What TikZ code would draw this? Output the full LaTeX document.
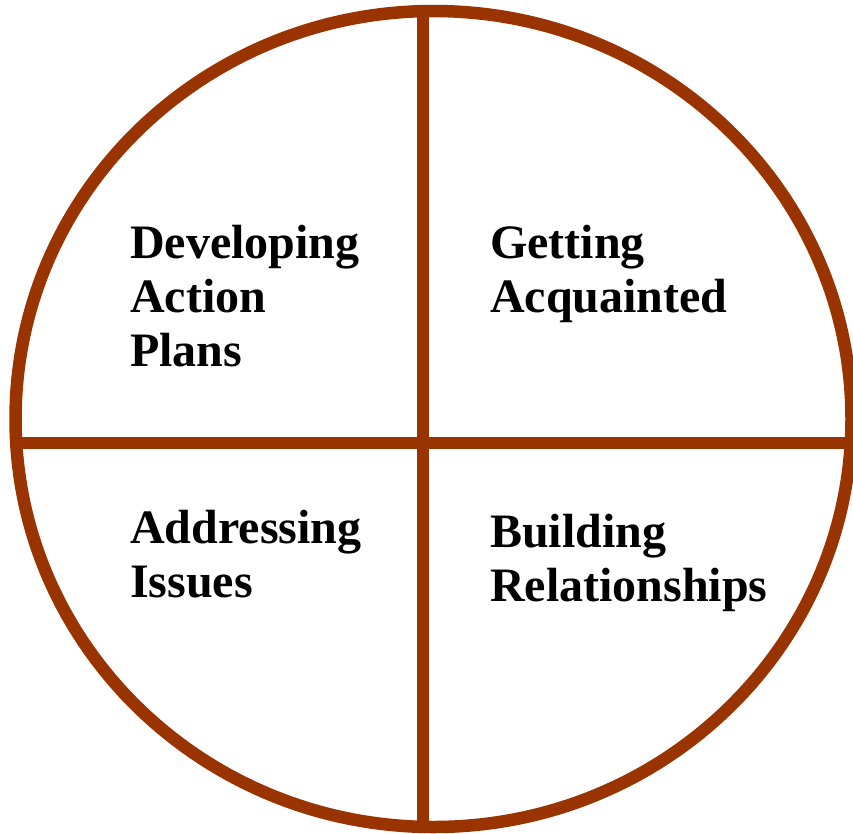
\documentclass[tikz,border=0pt]{standalone}
\usepackage{fontspec}
\setmainfont{Liberation Serif}
\usetikzlibrary{shapes.geometric}
\definecolor{rust}{HTML}{993300}
\begin{document}
\begin{tikzpicture}[x=1pt, y=-1pt, line width=12.5pt, draw=rust,
    ring/.style = {draw, ellipse, minimum width=836pt, minimum height=816pt, inner sep=0pt},
    main/.style = {anchor=base west, align=left, inner sep=0pt, text=black, font=\fontsize{48}{54}\selectfont\bfseries}]
    \useasboundingbox (0,0) rectangle (853,833);
    \node[ring] (c) at (433.5,419) {};
    \coordinate (n) at (423,11);
    \coordinate (s) at (423,827);
    \coordinate (w) at (16,443);
    \coordinate (e) at (850,443);
    \draw (n)--(s);
    \draw (w)--(e);
    % base anchor sits on the last line
    \node[main] (1) at (124,366) {Developing\\Action\\Plans};
    \node[main] (2) at (484,312) {Getting\\Acquainted};
    \node[main] (3) at (124,597) {Addressing\\Issues};
    \node[main] (4) at (484,601) {Building\\Relationships};
\end{tikzpicture}
\end{document}
